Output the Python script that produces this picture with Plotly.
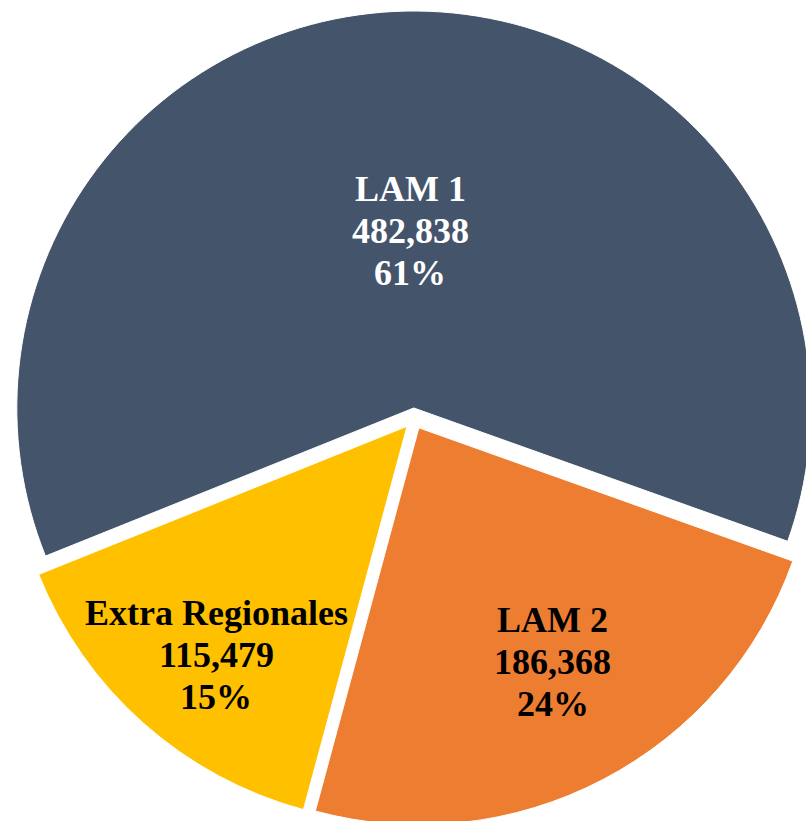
import math
import plotly.graph_objects as go

# ── data ──
labels = ["LAM 1", "LAM 2", "Extra Regionales"]
values = [482838, 186368, 115479]
pct_labels = ["61%", "24%", "15%"]   # as printed on the chart

# ── style ──
COLORS = ["#44546A", "#ED7D31", "#FFC000"]
TEXT_COLORS = ["#FFFFFF", "#000000", "#000000"]
FONT = "Liberation Serif"
FS = 36
LINE_GAP = 42                   # px between label lines
LABEL_R = [0.446, 0.68, 0.75]   # label distance from centre, fraction of radius
LABEL_DA = [0, 2.0, 1.7]        # small angular nudge of labels (deg, ccw)

W, H = 828, 837        # a bit larger than the window, so the pie is clipped like the original
DOM_Y = [0.01314, 0.98686]
PULL = 0.0265
ROTATION = 248.1       # clockwise from 12 o'clock

fig = go.Figure(go.Pie(
    labels=labels,
    values=values,
    textinfo="none",
    marker=dict(colors=COLORS, line=dict(color="#FFFFFF", width=1)),
    pull=[PULL] * len(values),
    sort=False,
    direction="clockwise",
    rotation=ROTATION,
    hoverinfo="label+value+percent",
    domain=dict(x=[0, 1], y=DOM_Y),
))

# labels: placed along each slice's mid angle (same geometry plotly uses)
r_px = min(W, H * (DOM_Y[1] - DOM_Y[0])) / 2 / (1 + PULL)
total = sum(values)
start = 90 - ROTATION   # math angle of first slice edge
cum = 0
annotations = []
for i, (lab, v, pct) in enumerate(zip(labels, values, pct_labels)):
    mid = math.radians(start - (cum + v / 2) / total * 360 + LABEL_DA[i])
    cum += v
    d = r_px * (LABEL_R[i] + PULL)
    x = 0.5 + d * math.cos(mid) / W
    y = (DOM_Y[0] + DOM_Y[1]) / 2 + d * math.sin(mid) / H
    for k, line in enumerate([lab, f"{v:,}", pct]):
        annotations.append(dict(
            x=x, y=y, xref="paper", yref="paper",
            text=line, showarrow=False,
            xanchor="center", yanchor="middle",
            yshift=(1 - k) * LINE_GAP,
            font=dict(family=FONT, size=FS, weight="bold", color=TEXT_COLORS[i]),
        ))

fig.update_layout(
    width=W, height=H,
    margin=dict(l=0, r=0, t=0, b=0),
    paper_bgcolor="#FFFFFF",
    plot_bgcolor="#FFFFFF",
    showlegend=False,
    annotations=annotations,
)

fig.write_html(
    "out.html",
    config={"displayModeBar": False},
    post_script="document.body.style.margin='0';document.body.style.overflow='hidden';"
                "document.documentElement.style.overflow='hidden';",
)
